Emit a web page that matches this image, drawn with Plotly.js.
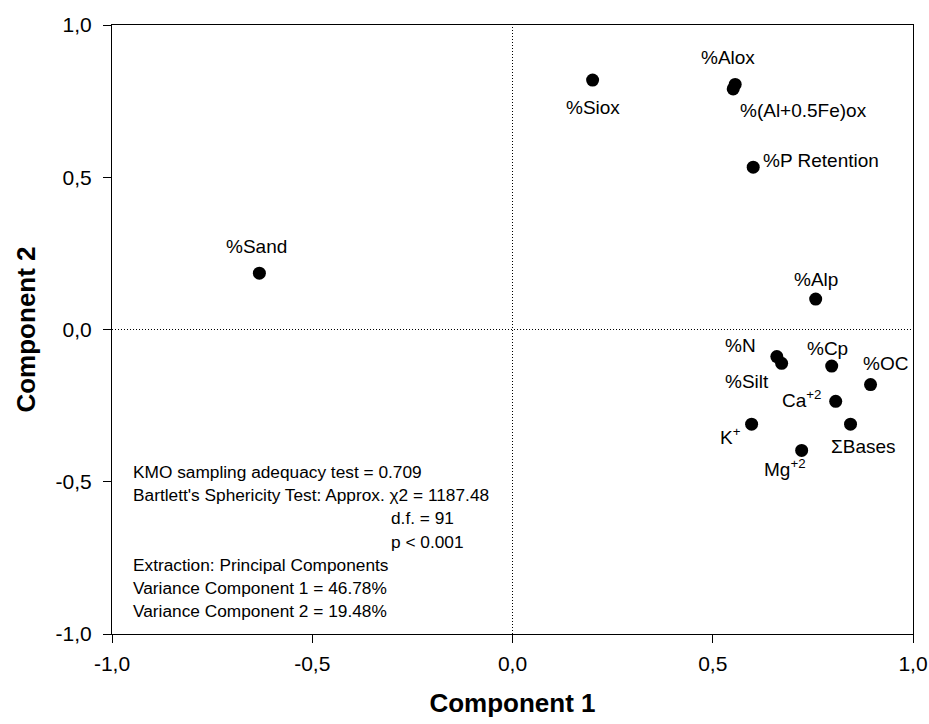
<!DOCTYPE html>
<html>
<head>
<meta charset="utf-8">
<script src="https://cdn.plot.ly/plotly-3.0.1.min.js"></script>
<style>html,body{margin:0;padding:0;background:#fff;}#chart{width:929px;height:724px;}</style>
</head>
<body>
<div id="chart"></div>
<script>
// Loadings
var variables = ["%Siox", "%Alox", "%(Al+0.5Fe)ox", "%P Retention", "%Sand", "%Alp", "%N", "%Silt", "%Cp", "%OC", "Ca<sup>+2</sup>", "ΣBases", "K<sup>+</sup>", "Mg<sup>+2</sup>"];
var component1 = [0.200, 0.556, 0.551, 0.601, -0.632, 0.757, 0.660, 0.672, 0.797, 0.894, 0.807, 0.844, 0.597, 0.722];
var component2 = [0.819, 0.805, 0.790, 0.533, 0.185, 0.100, -0.089, -0.111, -0.120, -0.181, -0.236, -0.311, -0.311, -0.397];

var tickValues = [-1, -0.5, 0, 0.5, 1];
var tickLabels = ["-1,0", "-0,5", "0,0", "0,5", "1,0"];

var statsLines = [
  "KMO sampling adequacy test = 0.709",
  "Bartlett's Sphericity Test: Approx. χ2 = 1187.48",
  "d.f. = 91",
  "p < 0.001",
  "Extraction: Principal Components",
  "Variance Component 1 = 46.78%",
  "Variance Component 2 = 19.48%"
];

// Label placement (pixel offsets from each point)
var labelPlacement = [
  {xs: 0, ys: -27, xa: "center"},
  {xs: -7, ys: 27, xa: "center"},
  {xs: 5, ys: -22, xa: "left"},
  {xs: 8, ys: 7, xa: "left"},
  {xs: -3, ys: 27, xa: "center"},
  {xs: 0, ys: 20, xa: "center"},
  {xs: -19, ys: 11, xa: "right"},
  {xs: -11, ys: -18, xa: "right"},
  {xs: -4, ys: 18, xa: "center"},
  {xs: 15, ys: 21, xa: "center"},
  {xs: -13, ys: 2, xa: "right"},
  {xs: -22, ys: -22, xa: "left"},
  {xs: -9, ys: -12, xa: "right"},
  {xs: -17, ys: -18, xa: "center"}
];

var font = "Arial, 'Liberation Sans', sans-serif";
var annotations = [];
for (var i = 0; i < variables.length; i++) {
  var p = labelPlacement[i];
  annotations.push({
    x: component1[i], y: component2[i], xref: "x", yref: "y",
    text: variables[i], showarrow: false,
    xanchor: p.xa, yanchor: "middle",
    xshift: p.xs, yshift: p.ys,
    font: {family: font, size: 19, color: "#000"}
  });
}
var statsX = [-0.953, -0.953, -0.308, -0.308, -0.953, -0.953, -0.953];
for (var j = 0; j < statsLines.length; j++) {
  annotations.push({
    x: statsX[j], y: 0, xref: "x", yref: "y",
    yshift: -142.5 - 23.2 * j,
    text: statsLines[j], showarrow: false,
    xanchor: "left", yanchor: "middle",
    font: {family: font, size: 17.3, color: "#000"}
  });
}

var trace = {
  x: component1, y: component2, type: "scatter", mode: "markers",
  marker: {color: "#000", size: 13},
  hoverinfo: "none"
};

var axisCommon = {
  range: [-1, 1], tickvals: tickValues, ticktext: tickLabels,
  ticks: "outside", ticklen: 8, tickwidth: 1, tickcolor: "#000",
  showline: true, linecolor: "#000", linewidth: 1, mirror: true,
  showgrid: false, zeroline: false,
  tickfont: {family: font, size: 21, color: "#000"}
};

var layout = {
  width: 929, height: 724,
  margin: {l: 112, r: 16, t: 25, b: 90},
  paper_bgcolor: "#fff", plot_bgcolor: "#fff",
  showlegend: false,
  xaxis: Object.assign({}, axisCommon, {
    ticklabelstandoff: 3,
    title: {text: "<b>Component 1</b>", font: {family: font, size: 26, color: "#000"}, standoff: 19}
  }),
  yaxis: Object.assign({}, axisCommon, {
    ticklabelstandoff: 7,
    title: {text: "<b>Component 2</b>", font: {family: font, size: 26, color: "#000"}, standoff: 12}
  }),
  shapes: [
    {type: "line", xref: "x", yref: "y", x0: 0, x1: 0, y0: -1, y1: 1, line: {color: "#000", width: 1, dash: "1px,2px"}},
    {type: "line", xref: "x", yref: "y", x0: -1, x1: 1, y0: 0, y1: 0, line: {color: "#000", width: 1, dash: "1px,2px"}}
  ],
  annotations: annotations
};

Plotly.newPlot("chart", [trace], layout, {displayModeBar: false, staticPlot: true});
</script>
</body>
</html>
